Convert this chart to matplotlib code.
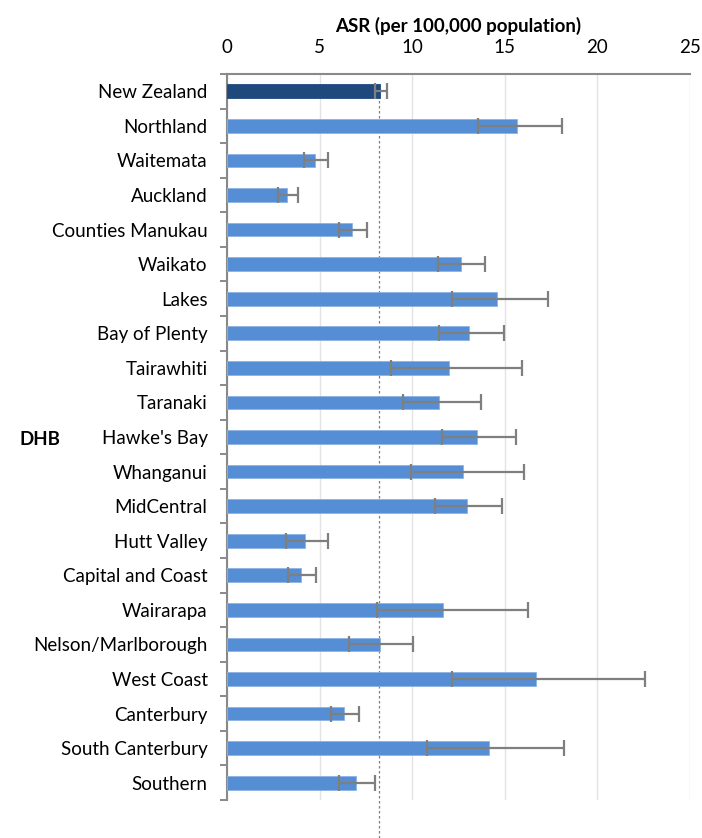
import matplotlib
matplotlib.use("Agg")
import matplotlib.pyplot as plt
import numpy as np
from matplotlib.ticker import FixedLocator

plt.rcParams["font.family"] = ["Lato", "DejaVu Sans"]

dhbs = [
    "New Zealand", "Northland", "Waitemata", "Auckland", "Counties Manukau",
    "Waikato", "Lakes", "Bay of Plenty", "Tairawhiti", "Taranaki",
    "Hawke's Bay", "Whanganui", "MidCentral", "Hutt Valley", "Capital and Coast",
    "Wairarapa", "Nelson/Marlborough", "West Coast", "Canterbury",
    "South Canterbury", "Southern",
]
asr = [
    8.25, 15.65, 4.73, 3.22, 6.76, 12.65, 14.57, 13.08, 12.0, 11.47,
    13.51, 12.76, 12.97, 4.2, 3.97, 11.68, 8.25, 16.71, 6.33, 14.14, 6.97,
]
ci_low = [
    8.0, 13.57, 4.15, 2.77, 6.07, 11.41, 12.17, 11.43, 8.84, 9.49,
    11.63, 9.92, 11.21, 3.2, 3.31, 8.1, 6.6, 12.17, 5.64, 10.78, 6.06,
]
ci_high = [
    8.66, 18.08, 5.43, 3.83, 7.57, 13.91, 17.32, 14.95, 15.92, 13.69,
    15.62, 16.03, 14.86, 5.44, 4.8, 16.24, 10.05, 22.57, 7.15, 18.19, 8.0,
]
nz_rate = 8.2

asr = np.array(asr)
err = np.vstack([asr - np.array(ci_low), np.array(ci_high) - asr])
y = np.arange(len(dhbs))
colors = ["#1F497D"] + ["#558ED5"] * (len(dhbs) - 1)
edges = ["#1F497D"] + ["#8DB3E2"] * (len(dhbs) - 1)

fig = plt.figure(figsize=(7.02, 8.38), dpi=100)
ax = fig.add_axes([227 / 702, 1 - 800 / 838, 463 / 702, 726 / 838])

ax.barh(y, asr, height=0.4, color=colors, edgecolor=edges, linewidth=0.6, zorder=3)
ax.errorbar(asr, y, xerr=err, fmt="none", ecolor="#7F7F7F", elinewidth=1.6,
            capsize=5.5, capthick=1.6, zorder=4)
ax.axvline(nz_rate, ymin=-0.052, ymax=0.977, color="#7F7F7F", lw=0.9,
           linestyle=(0, (2, 2)), clip_on=False, zorder=2)

ax.set_xlim(0, 25)
ax.set_ylim(len(dhbs) - 0.5, -0.5)
ax.set_xticks([0, 5, 10, 15, 20, 25])
ax.xaxis.tick_top()
ax.xaxis.set_label_position("top")
ax.tick_params(axis="x", length=0, pad=13, labelsize=13.5, colors="black")
ax.set_xlabel("ASR (per 100,000 population)", fontweight="bold", fontsize=13.5, labelpad=5)
ax.grid(axis="x", color="#E3E3E3", lw=1, zorder=0)

ax.set_yticks(y)
ax.set_yticklabels(dhbs)
ax.yaxis.set_minor_locator(FixedLocator(np.arange(-0.5, len(dhbs), 1)))
ax.tick_params(axis="y", which="major", length=0, pad=14, labelsize=13.5)
ax.tick_params(axis="y", which="minor", length=5, width=1.4, color="#898989")
ax.set_ylabel("DHB", rotation=0, fontweight="bold", fontsize=13.5)
ax.yaxis.set_label_coords(-0.404, 0.485)

for side in ("right", "bottom"):
    ax.spines[side].set_visible(False)
for side in ("left", "top"):
    ax.spines[side].set_color("#898989")
    ax.spines[side].set_linewidth(1.5)

fig.savefig("out.png", dpi=100)
